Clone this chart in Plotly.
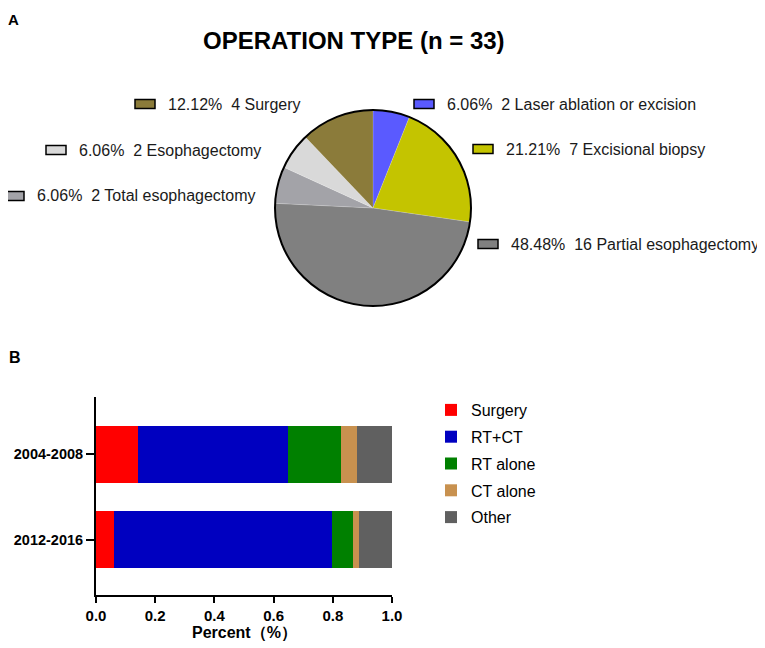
import plotly.graph_objects as go

# page body has an 8px margin, so the figure is a bit smaller than the window
W, H = 757, 640
OFF = 8

# Panel A: operation type (n = 33)
op_labels = ['Laser ablation or excision', 'Excisional biopsy', 'Partial esophagectomy',
             'Total esophagectomy', 'Esophagectomy', 'Surgery']
op_counts = [2, 7, 16, 2, 2, 4]
op_colors = ['#5a5aff', '#c4c400', '#808080', '#a3a3a8', '#d9d9d9', '#8b7b3a']

# Panel B: treatment share by period
periods = ['2004-2008', '2012-2016']
treatments = ['Surgery', 'RT+CT', 'RT alone', 'CT alone', 'Other']
shares = {
    'Surgery':  [0.141, 0.062],
    'RT+CT':    [0.508, 0.735],
    'RT alone': [0.179, 0.070],
    'CT alone': [0.053, 0.023],
    'Other':    [0.119, 0.110],
}
treat_colors = ['#ff0000', '#0000c0', '#008000', '#c8914f', '#606060']

total = sum(op_counts)


def px(x):
    return (x - OFF) / W


def py(y):
    return 1 - (y - OFF) / H


fig = go.Figure()

# pie, then a transparent one on top just for the black rim
pie_dom = dict(x=[px(275), px(471)], y=[py(306), py(110)])
fig.add_trace(go.Pie(
    labels=op_labels, values=op_counts, sort=False, direction='clockwise',
    marker=dict(colors=op_colors, line=dict(color='rgba(255,255,255,0.3)', width=0.5)),
    textinfo='none', showlegend=False, domain=pie_dom
))
fig.add_trace(go.Pie(
    labels=['rim'], values=[1], sort=False, textinfo='none', showlegend=False,
    marker=dict(colors=['rgba(0,0,0,0)'], line=dict(color='black', width=2)),
    hoverinfo='skip', domain=pie_dom
))

for t, c in zip(treatments, treat_colors):
    fig.add_trace(go.Bar(
        y=periods, x=shares[t], name=t, orientation='h',
        marker=dict(color=c, line=dict(width=0)), width=0.67,
        legendgroup=t
    ))

# pie labels with little swatches: (swatch left, y centre)
label_pos = {
    'Surgery': (135, 104),
    'Esophagectomy': (46, 150),
    'Total esophagectomy': (4, 196),
    'Laser ablation or excision': (414, 104),
    'Excisional biopsy': (473, 149),
    'Partial esophagectomy': (478, 244),
}
shapes = []
annotations = []
for lab, cnt, col in zip(op_labels, op_counts, op_colors):
    x0, yc = label_pos[lab]
    shapes.append(dict(type='rect', xref='paper', yref='paper',
                       x0=px(x0), x1=px(x0 + 20), y0=py(yc + 4.5), y1=py(yc - 4.5),
                       fillcolor=col, line=dict(color='black', width=1.5)))
    pct = 100 * cnt / total
    annotations.append(dict(text=f'{pct:.2f}%\u00a0 {cnt} {lab}', xref='paper', yref='paper',
                            x=px(x0 + 31), y=py(yc), xanchor='left', yanchor='middle',
                            showarrow=False, font=dict(size=16, color='#1a1a1a')))

annotations += [
    dict(text='<b>OPERATION TYPE (n = 33)</b>', xref='paper', yref='paper',
         x=px(354), y=py(40), xanchor='center', yanchor='middle', showarrow=False,
         font=dict(size=24, color='black')),
    dict(text='<b>A</b>', xref='paper', yref='paper', x=px(6), y=py(19),
         xanchor='left', yanchor='middle', showarrow=False, font=dict(size=15, color='black')),
    dict(text='<b>B</b>', xref='paper', yref='paper', x=px(7), y=py(357),
         xanchor='left', yanchor='middle', showarrow=False, font=dict(size=16, color='black')),
    dict(text='<b>Percent（%）</b>', xref='paper', yref='paper', x=px(244), y=py(633),
         xanchor='center', yanchor='middle', showarrow=False, font=dict(size=16, color='black')),
]

fig.update_layout(
    width=W, height=H,
    margin=dict(l=0, r=0, t=0, b=0),
    paper_bgcolor='white', plot_bgcolor='white',
    font=dict(family='Arial, Liberation Sans, sans-serif', color='black'),
    barmode='stack',
    bargap=0,
    xaxis=dict(domain=[px(96), px(392)], range=[0, 1], dtick=0.2, tickformat='.1f',
               showline=True, linecolor='black', linewidth=2, ticks='outside',
               ticklen=6, tickwidth=2, tickcolor='black', showgrid=False, zeroline=False,
               tickfont=dict(size=15), tickprefix='<b>', ticksuffix='</b>',
               automargin=False),
    yaxis=dict(domain=[py(595), py(397)], range=[1.65, -0.67],
               showline=True, linecolor='black', linewidth=2, ticks='outside',
               ticklen=8, tickwidth=2, tickcolor='black', showgrid=False, zeroline=False,
               tickfont=dict(size=14.5), tickprefix='<b>', ticksuffix='</b>',
               automargin=False),
    legend=dict(x=px(431), y=py(393), xanchor='left', yanchor='top',
                font=dict(size=16), traceorder='grouped', tracegroupgap=3,
                itemwidth=30, bgcolor='rgba(0,0,0,0)'),
    shapes=shapes,
    annotations=annotations,
)

fig.write_html('out.html')
